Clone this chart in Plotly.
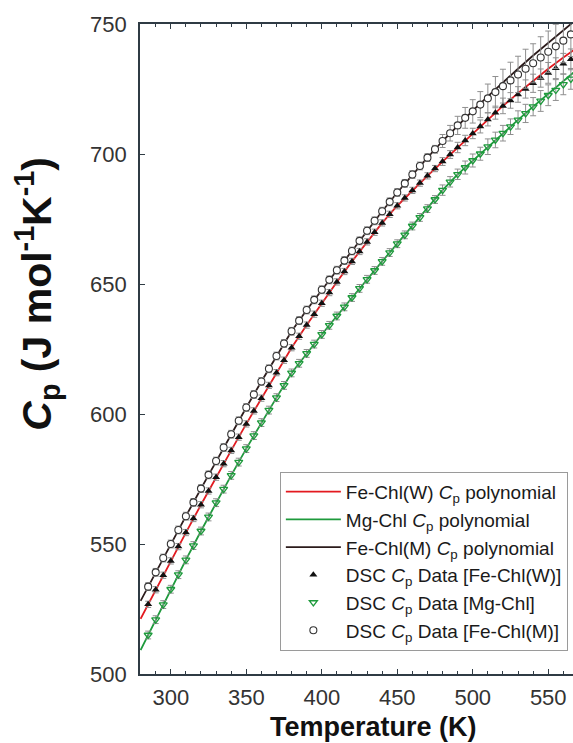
import plotly.graph_objects as go

# ---------------- data ----------------
T_poly = [280, 290, 300, 310, 320, 330, 340, 350, 360, 370, 380, 390, 400, 410, 420,
          430, 440, 450, 460, 470, 480, 490, 500, 510, 520, 530, 540, 550, 560, 570]

poly_FeW = [521.2, 532.4, 543.5, 554.4, 565.1, 575.7, 586.0, 596.2, 606.1, 615.9, 625.5,
            634.2, 642.6, 650.8, 658.7, 666.2, 673.5, 680.1, 686.0, 691.6, 697.1, 702.5,
            707.9, 713.3, 718.5, 723.4, 728.2, 732.8, 737.1, 741.2]
poly_Mg = [509.2, 520.9, 532.6, 543.9, 555.0, 565.9, 576.4, 586.7, 596.7, 606.3, 615.8,
           623.3, 630.6, 637.7, 644.8, 651.8, 658.7, 665.5, 672.3, 679.0, 686.1, 692.2,
           697.5, 702.8, 708.0, 713.1, 718.2, 723.2, 728.1, 732.9]
poly_FeM = [528.1, 539.1, 550.0, 560.7, 571.3, 581.9, 592.2, 602.5, 612.5, 622.3, 631.8,
            640.0, 647.8, 655.3, 662.7, 670.5, 678.0, 685.2, 692.1, 698.6, 705.0, 711.0,
            716.7, 722.2, 727.6, 732.8, 737.9, 742.8, 747.6, 752.4]

T_dsc = [285, 290, 295, 300, 305, 310, 315, 320, 325, 330, 335, 340, 345, 350, 355, 360,
         365, 370, 375, 380, 385, 390, 395, 400, 405, 410, 415, 420, 425, 430, 435, 440,
         445, 450, 455, 460, 465, 470, 475, 480, 485, 490, 495, 500, 505, 510, 515, 520,
         525, 530, 535, 540, 545, 550, 555, 560, 565]

dsc_FeW = [526.8, 532.4, 538.0, 543.5, 549.0, 554.4, 559.8, 565.1, 570.4, 575.7, 580.9,
           586.0, 591.1, 596.2, 601.2, 606.1, 611.0, 615.9, 620.7, 625.5, 629.9, 634.2,
           638.4, 642.6, 646.7, 650.8, 654.8, 658.7, 662.5, 666.2, 669.9, 673.5, 676.8,
           680.1, 683.1, 686.0, 688.8, 691.6, 694.4, 697.1, 699.8, 702.5, 705.2, 707.9,
           710.6, 713.3, 715.9, 718.5, 720.6, 722.9, 725.0, 727.2, 729.2, 731.2, 733.0,
           734.7, 736.4]
dsc_Mg = [515.0, 520.9, 526.7, 532.6, 538.2, 543.9, 549.4, 555.0, 560.4, 565.9, 571.1,
          576.4, 581.5, 586.7, 591.7, 596.7, 601.5, 606.3, 611.0, 615.8, 619.5, 623.3,
          626.9, 630.6, 634.1, 637.7, 641.2, 644.8, 648.3, 651.8, 655.2, 658.7, 662.1,
          665.5, 668.9, 672.3, 675.6, 679.0, 682.5, 686.1, 689.3, 692.2, 694.8, 697.5,
          700.1, 702.8, 705.4, 708.0, 710.5, 713.1, 715.6, 718.2, 720.4, 722.6, 724.6,
          726.8, 728.9]
dsc_FeM = [533.6, 539.1, 544.6, 550.0, 555.4, 560.7, 566.0, 571.3, 576.6, 581.9, 587.1,
           592.2, 597.4, 602.5, 607.5, 612.5, 617.4, 622.3, 627.1, 631.8, 635.9, 640.0,
           643.9, 647.8, 651.6, 655.3, 659.0, 662.7, 666.6, 670.5, 674.3, 678.0, 681.6,
           685.2, 688.7, 692.1, 695.4, 698.6, 701.8, 705.0, 708.0, 711.0, 713.9, 716.4,
           719.0, 721.4, 723.8, 726.1, 728.3, 730.6, 732.8, 734.9, 737.1, 739.3, 741.4,
           743.6, 746.0]

err_FeW = [1.2, 1.2, 1.2, 1.2, 1.2, 1.2, 1.2, 1.2, 1.2, 1.2, 1.2, 1.2, 1.2, 1.2, 1.2, 1.2,
           1.2, 1.2, 1.2, 1.2, 1.2, 1.2, 1.2, 1.2, 1.2, 1.2, 1.2, 1.2, 1.2, 1.2, 1.2, 1.2,
           1.2, 1.2, 1.2, 1.2, 1.2, 1.2, 1.2, 1.5, 1.5, 2.0, 2.0, 2.0, 2.5, 2.5, 2.5, 3.0,
           3.0, 3.0, 3.5, 3.5, 3.5, 4.0, 4.0, 4.0, 4.0]
err_Mg = [1.5, 1.5, 1.5, 1.5, 1.5, 1.5, 1.5, 1.5, 1.5, 1.5, 1.5, 1.5, 1.5, 1.5, 1.5, 1.5,
          1.5, 1.5, 1.5, 1.5, 1.5, 1.5, 1.5, 1.5, 1.5, 1.5, 1.5, 1.5, 1.5, 1.5, 1.5, 1.5,
          1.5, 1.5, 1.5, 1.5, 1.5, 1.5, 1.5, 2.0, 2.0, 2.0, 2.5, 2.5, 2.5, 3.0, 3.0, 3.0,
          3.0, 3.5, 3.5, 3.5, 4.0, 4.0, 4.0, 4.0, 4.0]
err_FeM = [1.5, 1.5, 1.5, 1.5, 1.5, 1.5, 1.5, 1.5, 1.5, 1.5, 1.5, 1.5, 1.5, 1.5, 1.5, 1.5,
           1.5, 1.5, 1.5, 1.5, 1.5, 1.5, 1.5, 1.5, 1.5, 1.5, 1.5, 1.5, 1.5, 1.5, 1.5, 1.5,
           1.5, 1.5, 1.5, 1.5, 1.5, 1.5, 1.5, 2.5, 3.0, 3.5, 4.0, 4.5, 5.0, 5.5, 6.0, 6.5,
           7.0, 7.0, 7.5, 7.5, 8.0, 8.0, 8.5, 8.5, 8.5]

x_ticks = [300, 350, 400, 450, 500, 550]
y_ticks = [500, 550, 600, 650, 700, 750]

names = ["Fe-Chl(W) <i>C</i><sub>p</sub> polynomial",
         "Mg-Chl <i>C</i><sub>p</sub> polynomial",
         "Fe-Chl(M) <i>C</i><sub>p</sub> polynomial",
         "DSC <i>C</i><sub>p</sub> Data [Fe-Chl(W)]",
         "DSC <i>C</i><sub>p</sub> Data [Mg-Chl]",
         "DSC <i>C</i><sub>p</sub> Data [Fe-Chl(M)]"]

# ---------------- style ----------------
RED = "#e3191f"
GREEN = "#1e9a3c"
DARK = "#2b1b1b"
ERRC = "#8f8f8f"
FONT = "Arial, Liberation Sans, Helvetica, sans-serif"

fig = go.Figure()

for y, c, n in [(poly_FeW, RED, names[0]), (poly_Mg, GREEN, names[1]), (poly_FeM, DARK, names[2])]:
    fig.add_trace(go.Scatter(x=T_poly, y=y, mode="lines", name=n,
                             line=dict(color=c, width=1.8), legendgroup=n))

fig.add_trace(go.Scatter(
    x=T_dsc, y=dsc_FeW, mode="markers", name=names[3], legendgroup=names[3],
    marker=dict(symbol="triangle-up", size=7, color="#111111"),
    error_y=dict(type="data", array=err_FeW, color=ERRC, thickness=1, width=3)))
fig.add_trace(go.Scatter(
    x=T_dsc, y=dsc_Mg, mode="markers", name=names[4], legendgroup=names[4],
    marker=dict(symbol="triangle-down-open", size=7, color=GREEN, line=dict(width=1.3)),
    error_y=dict(type="data", array=err_Mg, color=ERRC, thickness=1, width=3)))
fig.add_trace(go.Scatter(
    x=T_dsc, y=dsc_FeM, mode="markers", name=names[5], legendgroup=names[5],
    marker=dict(symbol="circle", size=7, color="white", line=dict(color="#333333", width=1.1)),
    error_y=dict(type="data", array=err_FeM, color=ERRC, thickness=1, width=3)))

axis_common = dict(
    showline=True, linecolor="#2f3b44", linewidth=1.6, showgrid=False, zeroline=False,
    ticks="inside", ticklen=5, tickcolor="#2f3b44", tickwidth=1,
    tickfont=dict(family=FONT, size=22, color="#333333"), ticklabeloverflow="allow",
)

fig.update_xaxes(range=[279.6, 566.4], tickvals=x_ticks, mirror="ticks", ticklabelstandoff=3,
                 minor=dict(dtick=10, tick0=280, ticks="inside", ticklen=3, tickcolor="#2f3b44"),
                 **axis_common)
fig.update_yaxes(range=[500, 750], tickvals=y_ticks, mirror=False, ticklabelstandoff=7,
                 **axis_common)

fig.add_annotation(text="<b>Temperature (K)</b>", xref="paper", yref="paper",
                   x=0.540, y=-0.082, xanchor="center", yanchor="middle", showarrow=False,
                   font=dict(family=FONT, size=27, color="#111111"))
fig.add_annotation(text="<b><i>C</i><sub>p</sub> (J mol<sup>-1</sup>K<sup>-1</sup>)</b>",
                   xref="paper", yref="paper", x=-0.238, y=0.585, textangle=-90,
                   xanchor="center", yanchor="middle", showarrow=False,
                   font=dict(family=FONT, size=41, color="#111111"))

fig.update_layout(
    width=573, height=743,
    margin=dict(l=140, r=0, t=24, b=69, autoexpand=False),
    paper_bgcolor="white", plot_bgcolor="white",
    showlegend=True,
    legend=dict(x=0.323, y=0.311, xanchor="left", yanchor="top",
                bgcolor="white", bordercolor="#9a9a9a", borderwidth=1,
                font=dict(family=FONT, size=19, color="#1a1a1a"),
                traceorder="grouped", tracegroupgap=0, itemwidth=55),
)

fig.write_html("out.html")
